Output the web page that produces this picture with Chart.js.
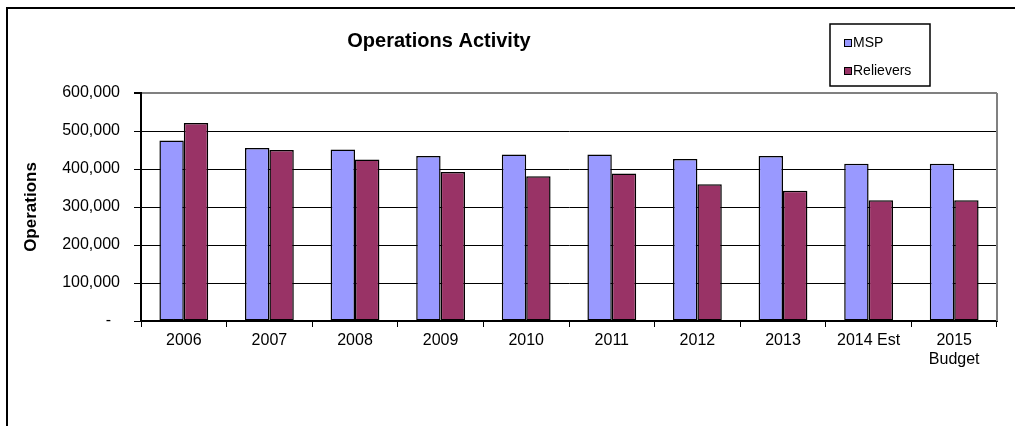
<!DOCTYPE html>
<html>
<head>
<meta charset="utf-8">
<title>Operations Activity</title>
<script src="https://cdn.jsdelivr.net/npm/chart.js@4.4.1/dist/chart.umd.min.js"></script>
<style>
  html, body { margin: 0; padding: 0; background: #ffffff; }
  #wrap { width: 1015px; height: 426px; position: relative; }
</style>
</head>
<body>
<div id="wrap"><canvas id="chart" width="1015" height="426"></canvas></div>
<script>
// Years shown along the bottom axis
const categories = ['2006', '2007', '2008', '2009', '2010', '2011', '2012', '2013', '2014 Est', ['2015', 'Budget']];

// Annual operations counts
const mspOps = [475000, 455000, 451000, 434000, 438000, 438000, 426000, 434000, 414000, 414000];
const relieverOps = [521000, 450000, 425000, 392000, 381000, 388000, 360000, 343000, 318000, 318000];

const seriesNames = ['MSP', 'Relievers'];
const chartTitle = 'Operations Activity';
const yAxisTitle = 'Operations';

const FONT = '"Liberation Sans", Arial, Helvetica, sans-serif';

// Outer frame, plot-area edges, title and boxed legend
const decorations = {
  id: 'decorations',
  beforeDraw(chart) {
    const ctx = chart.ctx;
    ctx.save();
    ctx.fillStyle = '#ffffff';
    ctx.fillRect(0, 0, chart.width, chart.height);
    ctx.restore();
  },
  afterDraw(chart) {
    const ctx = chart.ctx;
    const a = chart.chartArea;
    ctx.save();

    // outer frame
    ctx.strokeStyle = '#000000';
    ctx.lineWidth = 2;
    ctx.beginPath();
    ctx.moveTo(7, 426);
    ctx.lineTo(7, 8);
    ctx.lineTo(1015, 8);
    ctx.stroke();

    // plot area right edge (grey)
    ctx.strokeStyle = '#808080';
    ctx.lineWidth = 2;
    ctx.beginPath();
    ctx.moveTo(Math.round(a.right), a.top);
    ctx.lineTo(Math.round(a.right), a.bottom);
    ctx.stroke();

    // title
    ctx.fillStyle = '#000000';
    ctx.font = 'bold 20px ' + FONT;
    ctx.textAlign = 'center';
    ctx.textBaseline = 'middle';
    ctx.fillText(chartTitle, 439, 41);

    // legend box
    const bx = 830, by = 24, bw = 100, bh = 62;
    ctx.fillStyle = '#ffffff';
    ctx.fillRect(bx, by, bw, bh);
    ctx.strokeStyle = '#000000';
    ctx.lineWidth = 1.5;
    ctx.strokeRect(bx, by, bw, bh);

    const rows = [43, 71];
    chart.data.datasets.forEach((ds, i) => {
      const y = rows[i];
      ctx.fillStyle = ds.backgroundColor;
      ctx.fillRect(844.5, y - 3.5, 7, 7);
      ctx.strokeStyle = '#000000';
      ctx.lineWidth = 1;
      ctx.strokeRect(844.5, y - 3.5, 7, 7);
      ctx.fillStyle = '#000000';
      ctx.font = '14px ' + FONT;
      ctx.textAlign = 'left';
      ctx.textBaseline = 'middle';
      ctx.fillText(ds.label, 853, y);
    });

    ctx.restore();
  }
};

new Chart(document.getElementById('chart'), {
  type: 'bar',
  data: {
    labels: categories,
    datasets: [
      {
        label: seriesNames[0],
        data: mspOps,
        backgroundColor: '#9999FF',
        borderColor: '#000000',
        borderWidth: 1.5,
        borderSkipped: false
      },
      {
        label: seriesNames[1],
        data: relieverOps,
        backgroundColor: '#993366',
        borderColor: '#000000',
        borderWidth: 1.5,
        borderSkipped: false
      }
    ]
  },
  options: {
    responsive: false,
    animation: false,
    devicePixelRatio: 1,
    categoryPercentage: 0.57,
    barPercentage: 1.0,
    layout: {
      padding: { left: 20, right: 18, top: 93, bottom: 45 }
    },
    plugins: {
      legend: { display: false },
      title: { display: false },
      tooltip: { enabled: false }
    },
    scales: {
      x: {
        grid: {
          offset: true,
          drawOnChartArea: false,
          drawTicks: true,
          tickLength: 6,
          color: '#000000',
          tickColor: '#000000',
          lineWidth: 1
        },
        border: { color: '#000000', width: 2 },
        ticks: {
          color: '#000000',
          font: { family: FONT, size: 16 },
          padding: 4,
          maxRotation: 0,
          autoSkip: false
        },
        afterFit(scale) { scale.height = 60; }
      },
      y: {
        min: 0,
        max: 600000,
        grid: {
          color: (c) => (c.tick && c.tick.value === 600000 ? '#808080' : '#000000'),
          tickColor: '#000000',
          lineWidth: (c) => (c.tick && c.tick.value === 600000 ? 2 : 1),
          tickLength: 7
        },
        border: { color: '#000000', width: 2 },
        ticks: {
          stepSize: 100000,
          color: '#000000',
          font: { family: FONT, size: 16 },
          padding: 14,
          callback: (v) => (v === 0 ? '-  ' : v.toLocaleString('en-US'))
        },
        title: {
          display: true,
          text: yAxisTitle,
          color: '#000000',
          font: { family: FONT, size: 17, weight: 'bold' },
          padding: { top: 1, bottom: 0 }
        },
        afterFit(scale) { scale.width = 121; }
      }
    }
  },
  plugins: [decorations]
});
</script>
</body>
</html>
